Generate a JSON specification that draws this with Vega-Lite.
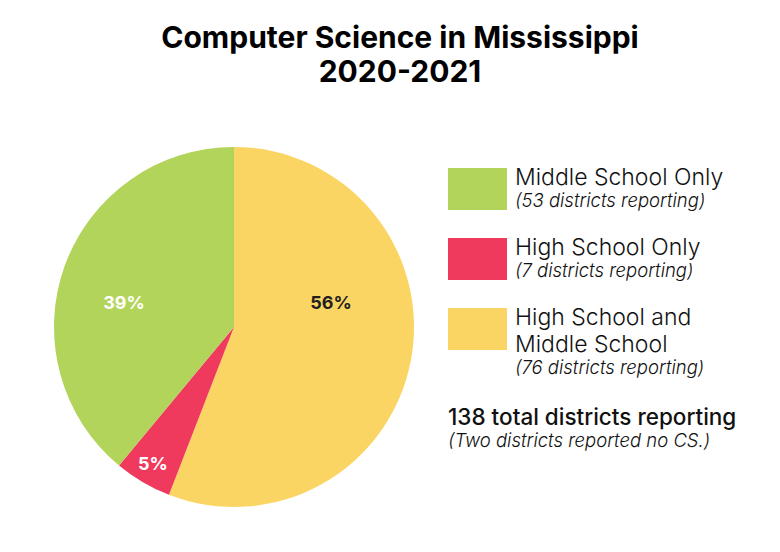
{
  "$schema": "https://vega.github.io/schema/vega-lite/v6.json",
  "background": "white",
  "padding": {"left": 54, "top": 24, "right": 0, "bottom": 0},
  "bounds": "flush",
  "title": {
    "text": ["Computer Science in Mississippi", "2020-2021"],
    "font": "Inter",
    "fontSize": 30,
    "fontWeight": 700,
    "lineHeight": 34,
    "color": "#000000",
    "anchor": "middle",
    "offset": 59
  },
  "config": {"view": {"stroke": null}},
  "resolve": {"scale": {"y": "independent", "color": "independent"}},
  "datasets": {
    "slices": [
      {"category": "High School and Middle School", "districts": 76, "pct": "56%"},
      {"category": "High School Only", "districts": 7, "pct": "5%"},
      {"category": "Middle School Only", "districts": 53, "pct": "39%"}
    ],
    "legend": [
      {"entry": "Middle School Only", "label": "Middle School Only", "note": "(53 districts reporting)"},
      {"entry": "High School Only", "label": "High School Only", "note": "(7 districts reporting)"},
      {"entry": "High School and Middle School", "label": "High School and\nMiddle School", "note": "(76 districts reporting)"}
    ],
    "total": [
      {"entry": "Total", "label": "138 total districts reporting", "note": "(Two districts reported no CS.)"}
    ]
  },
  "spacing": 34,
  "hconcat": [
    {
      "width": 360,
      "height": 360,
      "data": {"name": "slices"},
      "transform": [{"window": [{"op": "row_number", "as": "idx"}]}],
      "layer": [
        {
          "mark": {"type": "arc"},
          "encoding": {
            "theta": {"field": "districts", "type": "quantitative", "stack": true},
            "order": {"field": "idx", "type": "quantitative"},
            "color": {
              "field": "category",
              "type": "nominal",
              "scale": {
                "domain": ["Middle School Only", "High School Only", "High School and Middle School"],
                "range": ["#b3d45b", "#ef3a5e", "#fbd563"]
              },
              "legend": null
            }
          }
        },
        {
          "transform": [{"filter": "datum.category === 'Middle School Only'"}],
          "mark": {"type": "text", "font": "Inter", "fontSize": 18, "fontWeight": 700, "color": "white", "align": "center", "baseline": "middle", "dx": -110, "dy": -23},
          "encoding": {"text": {"field": "pct", "type": "nominal"}}
        },
        {
          "transform": [{"filter": "datum.category === 'High School and Middle School'"}],
          "mark": {"type": "text", "font": "Inter", "fontSize": 18, "fontWeight": 700, "color": "#231f20", "align": "center", "baseline": "middle", "dx": 97, "dy": -23},
          "encoding": {"text": {"field": "pct", "type": "nominal"}}
        },
        {
          "transform": [{"filter": "datum.category === 'High School Only'"}],
          "mark": {"type": "text", "font": "Inter", "fontSize": 18, "fontWeight": 700, "color": "white", "align": "center", "baseline": "middle", "dx": -81, "dy": 138},
          "encoding": {"text": {"field": "pct", "type": "nominal"}}
        }
      ]
    },
    {
      "spacing": 4,
      "bounds": "full",
      "resolve": {"scale": {"y": "independent", "color": "independent"}},
      "vconcat": [
        {
          "spacing": 8,
          "bounds": "flush",
          "resolve": {"scale": {"y": "independent", "color": "independent"}},
          "hconcat": [
            {
              "width": 59,
              "height": 240,
              "data": {"name": "legend"},
              "mark": {"type": "bar", "height": {"band": 0.6}},
              "encoding": {
                "y": {
                  "field": "entry",
                  "type": "nominal",
                  "sort": null,
                  "scale": {
                    "type": "band",
                    "domain": ["Middle School Only", "High School Only", "High School and Middle School"],
                    "paddingInner": 0,
                    "paddingOuter": 0.2143,
                    "align": 0.2333
                  },
                  "axis": null
                },
                "color": {
                  "field": "entry",
                  "type": "nominal",
                  "scale": {
                    "domain": ["Middle School Only", "High School Only", "High School and Middle School"],
                    "range": ["#b3d45b", "#ef3a5e", "#fbd563"]
                  },
                  "legend": null
                }
              }
            },
            {
              "width": 231,
              "height": 240,
              "data": {"name": "legend"},
              "encoding": {
                "y": {
                  "field": "entry",
                  "type": "nominal",
                  "sort": null,
                  "scale": {
                    "type": "band",
                    "domain": ["Middle School Only", "High School Only", "High School and Middle School"],
                    "paddingInner": 0,
                    "paddingOuter": 0.2143,
                    "align": 0.2333
                  },
                  "axis": null
                },
                "x": {"value": 0}
              },
              "layer": [
                {
                  "mark": {"type": "text", "font": "Inter", "fontSize": 23, "fontWeight": 300, "color": "#111111", "align": "left", "baseline": "alphabetic", "dy": -4, "lineBreak": "\n", "lineHeight": 27},
                  "encoding": {"text": {"field": "label", "type": "nominal"}}
                },
                {
                  "transform": [{"filter": "datum.entry !== 'High School and Middle School'"}],
                  "mark": {"type": "text", "font": "Inter", "fontSize": 18.5, "fontStyle": "italic", "fontWeight": 300, "color": "#111111", "align": "left", "baseline": "alphabetic", "dy": 18},
                  "encoding": {"text": {"field": "note", "type": "nominal"}}
                },
                {
                  "transform": [{"filter": "datum.entry === 'High School and Middle School'"}],
                  "mark": {"type": "text", "font": "Inter", "fontSize": 18.5, "fontStyle": "italic", "fontWeight": 300, "color": "#111111", "align": "left", "baseline": "alphabetic", "dy": 45},
                  "encoding": {"text": {"field": "note", "type": "nominal"}}
                }
              ]
            }
          ]
        },
        {
          "width": 298,
          "height": 60,
          "data": {"name": "total"},
          "encoding": {
            "y": {"field": "entry", "type": "nominal", "scale": {"type": "band", "paddingInner": 0, "paddingOuter": 0}, "axis": null},
            "x": {"value": 0}
          },
          "layer": [
            {
              "mark": {"type": "text", "font": "Inter", "fontSize": 22.5, "fontWeight": 500, "color": "#111111", "align": "left", "baseline": "alphabetic", "dy": 4},
              "encoding": {"text": {"field": "label", "type": "nominal"}}
            },
            {
              "mark": {"type": "text", "font": "Inter", "fontSize": 18.5, "fontStyle": "italic", "fontWeight": 300, "color": "#111111", "align": "left", "baseline": "alphabetic", "dy": 26},
              "encoding": {"text": {"field": "note", "type": "nominal"}}
            }
          ]
        }
      ]
    }
  ]
}
